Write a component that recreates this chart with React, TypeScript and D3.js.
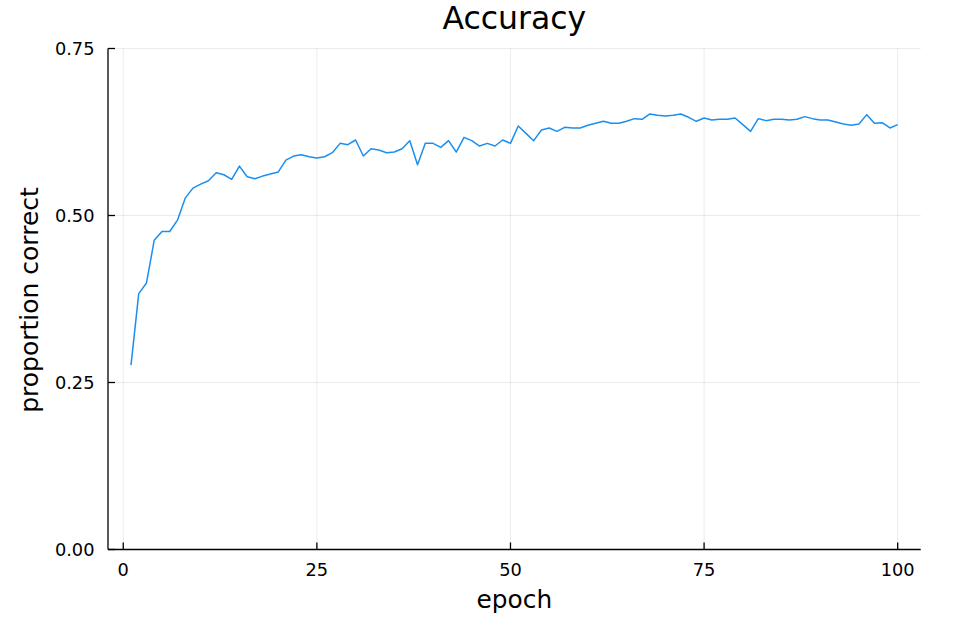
import React from "react";
import * as d3 from "d3";

const epochs: number[] = Array.from({ length: 100 }, (_, i) => i + 1);
const accuracy: number[] = [
  0.276, 0.383, 0.399, 0.463, 0.476, 0.476, 0.493, 0.526, 0.541, 0.547,
  0.552, 0.564, 0.561, 0.554, 0.574, 0.558, 0.555, 0.559, 0.562, 0.565,
  0.583, 0.589, 0.591, 0.588, 0.586, 0.588, 0.594, 0.608, 0.606, 0.613,
  0.589, 0.600, 0.598, 0.594, 0.595, 0.600, 0.612, 0.576, 0.608, 0.608,
  0.602, 0.612, 0.595, 0.617, 0.612, 0.604, 0.608, 0.604, 0.613, 0.608,
  0.634, 0.623, 0.612, 0.628, 0.631, 0.626, 0.632, 0.631, 0.631, 0.635,
  0.638, 0.641, 0.638, 0.638, 0.641, 0.645, 0.644, 0.652, 0.650, 0.649,
  0.650, 0.652, 0.647, 0.641, 0.646, 0.643, 0.644, 0.644, 0.646, 0.636,
  0.626, 0.645, 0.642, 0.644, 0.644, 0.643, 0.644, 0.648, 0.645, 0.643,
  0.643, 0.640, 0.637, 0.635, 0.637, 0.651, 0.638, 0.639, 0.631, 0.636,
];
const xTicks: number[] = [0, 25, 50, 75, 100];
const yTicks: number[] = [0, 0.25, 0.5, 0.75];
const yTickLabels: string[] = ["0.00", "0.25", "0.50", "0.75"];

const W = 972;
const H = 624;
const left = 108;
const right = 920.7;
const top = 48.5;
const bottom = 549.5;
const font = "DejaVu Sans";

export default function App() {
  const x = d3.scaleLinear().domain([-1.97, 102.97]).range([left, right]);
  const y = d3.scaleLinear().domain([0, 0.75]).range([bottom, top]);
  const line = d3
    .line<number>()
    .x((_, i) => x(epochs[i]))
    .y((d) => y(d));
  const cx = (left + right) / 2;
  const cy = (top + bottom) / 2;
  return (
    <svg
      width={W}
      height={H}
      style={{ position: "absolute", left: 0, top: 0, background: "#fff" }}
      fontFamily={font}
    >
      <rect x={0} y={0} width={W} height={H} fill="#fff" />
      {xTicks.map((t) => (
        <line key={"gx" + t} x1={x(t)} x2={x(t)} y1={top} y2={bottom} stroke="#000" strokeOpacity={0.08} strokeWidth={1} />
      ))}
      {yTicks.map((t) => (
        <line key={"gy" + t} x1={left} x2={right} y1={y(t)} y2={y(t)} stroke="#000" strokeOpacity={0.08} strokeWidth={1} />
      ))}
      <path d={line(accuracy) || ""} fill="none" stroke="#1a8ff0" strokeWidth={1.5} strokeLinejoin="round" />
      <line x1={left} x2={right} y1={bottom} y2={bottom} stroke="#000" strokeWidth={1.3} />
      <line x1={left} x2={left} y1={top} y2={bottom} stroke="#000" strokeWidth={1.3} />
      {xTicks.map((t) => (
        <g key={"tx" + t}>
          <line x1={x(t)} x2={x(t)} y1={bottom} y2={bottom - 7} stroke="#000" strokeWidth={1.3} />
          <text x={x(t)} y={575.5} textAnchor="middle" fontSize={17.8} fill="#000">
            {t}
          </text>
        </g>
      ))}
      {yTicks.map((t, i) => (
        <g key={"ty" + t}>
          <line x1={left} x2={left + 7} y1={y(t)} y2={y(t)} stroke="#000" strokeWidth={1.3} />
          <text x={94.5} y={y(t)} dy="0.36em" textAnchor="end" fontSize={17.8} fill="#000">
            {yTickLabels[i]}
          </text>
        </g>
      ))}
      <text x={cx} y={29} textAnchor="middle" fontSize={31.5} fill="#000">
        Accuracy
      </text>
      <text x={cx} y={607.7} textAnchor="middle" fontSize={24.8} fill="#000">
        epoch
      </text>
      <text
        transform={`translate(37.5, ${cy + 1}) rotate(-90)`}
        textAnchor="middle"
        fontSize={25}
        fill="#000"
      >
        proportion correct
      </text>
    </svg>
  );
}
